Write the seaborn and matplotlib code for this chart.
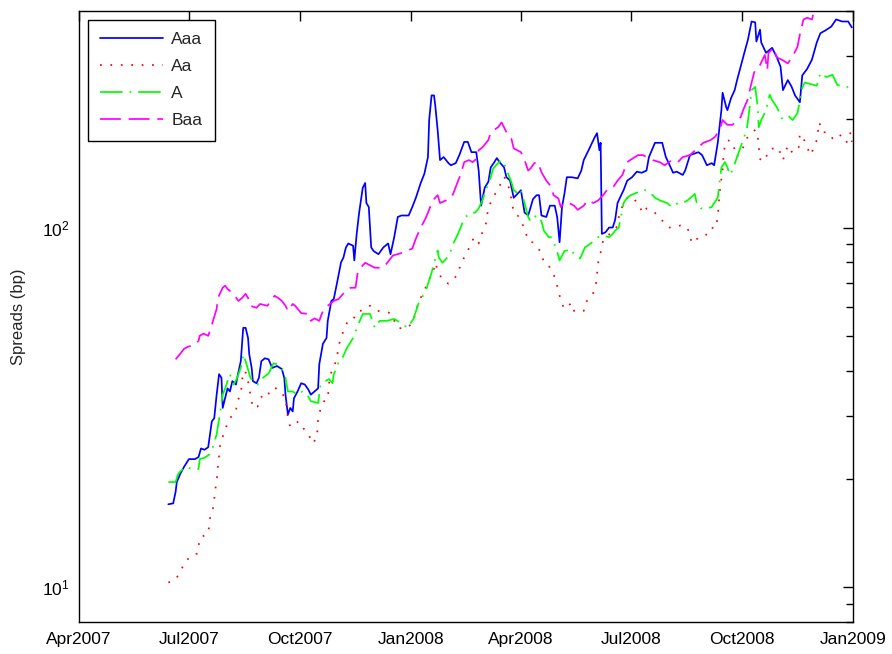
import matplotlib
matplotlib.use("Agg")
import matplotlib.pyplot as plt
import matplotlib.dates as mdates
from matplotlib.ticker import LogLocator, NullFormatter
import seaborn as sns
import pandas as pd

# ---------------- data (spreads in bp) ----------------
aaa_dates = [
 "2007-06-14","2007-06-18","2007-06-20","2007-06-21","2007-06-24","2007-06-27","2007-07-01","2007-07-06","2007-07-09","2007-07-11",
 "2007-07-14","2007-07-17","2007-07-20","2007-07-22","2007-07-24","2007-07-26","2007-07-28","2007-07-29","2007-08-02","2007-08-04",
 "2007-08-06","2007-08-09","2007-08-10","2007-08-13","2007-08-14","2007-08-15","2007-08-17","2007-08-19","2007-08-20","2007-08-22",
 "2007-08-23","2007-08-26","2007-08-28","2007-08-30","2007-09-02","2007-09-05","2007-09-08","2007-09-12","2007-09-16","2007-09-18",
 "2007-09-19","2007-09-21","2007-09-23","2007-09-25","2007-09-26","2007-09-29","2007-10-02","2007-10-05","2007-10-08","2007-10-10",
 "2007-10-13","2007-10-16","2007-10-17","2007-10-20","2007-10-23","2007-10-24","2007-10-27","2007-10-29","2007-11-01","2007-11-04",
 "2007-11-06","2007-11-08","2007-11-10","2007-11-14","2007-11-15","2007-11-17","2007-11-19","2007-11-22","2007-11-24","2007-11-25",
 "2007-11-27","2007-11-29","2007-12-01","2007-12-05","2007-12-09","2007-12-13","2007-12-15","2007-12-18","2007-12-21","2007-12-24",
 "2007-12-30","2008-01-02","2008-01-05","2008-01-09","2008-01-12","2008-01-15","2008-01-16","2008-01-18","2008-01-20","2008-01-21",
 "2008-01-23","2008-01-25","2008-01-28","2008-02-01","2008-02-03","2008-02-07","2008-02-10","2008-02-14","2008-02-17","2008-02-20",
 "2008-02-24","2008-02-26","2008-02-28","2008-03-02","2008-03-05","2008-03-07","2008-03-10","2008-03-12","2008-03-15","2008-03-18",
 "2008-03-20","2008-03-23","2008-03-26","2008-03-30","2008-04-01","2008-04-04","2008-04-07","2008-04-11","2008-04-14","2008-04-16",
 "2008-04-18","2008-04-22","2008-04-25","2008-04-29","2008-05-01","2008-05-03","2008-05-05","2008-05-07","2008-05-09","2008-05-13",
 "2008-05-18","2008-05-21","2008-05-23","2008-05-27","2008-06-01","2008-06-03","2008-06-05","2008-06-06","2008-06-07","2008-06-10",
 "2008-06-13","2008-06-16","2008-06-18","2008-06-20","2008-06-22","2008-06-25","2008-06-28","2008-07-02","2008-07-06","2008-07-10",
 "2008-07-14","2008-07-16","2008-07-21","2008-07-27","2008-07-30","2008-08-01","2008-08-05","2008-08-08","2008-08-13","2008-08-15",
 "2008-08-19","2008-08-26","2008-08-29","2008-09-02","2008-09-06","2008-09-08","2008-09-11","2008-09-14","2008-09-15","2008-09-18",
 "2008-09-19","2008-09-22","2008-09-25","2008-09-27","2008-10-01","2008-10-03","2008-10-06","2008-10-09","2008-10-12","2008-10-13",
 "2008-10-16","2008-10-17","2008-10-21","2008-10-24","2008-10-26","2008-10-30","2008-11-02","2008-11-04","2008-11-08","2008-11-11",
 "2008-11-14","2008-11-18","2008-11-20","2008-11-24","2008-11-28","2008-12-02","2008-12-05","2008-12-09","2008-12-14","2008-12-18",
 "2008-12-23","2008-12-28","2008-12-31"]
aaa_vals = [
 17.0,17.1,18.4,19.6,20.7,21.6,22.7,22.7,23.0,24.3,
 24.1,24.5,28.9,29.5,34.3,39.1,38.2,31.5,35.7,35.0,
 37.4,36.6,38.2,42.5,47.5,52.6,52.6,49.3,44.4,40.7,
 37.4,36.9,38.2,42.5,43.3,43.0,40.7,41.2,40.4,38.2,
 34.3,30.2,31.5,30.8,33.5,35.0,36.9,36.6,35.4,34.3,
 35.0,35.7,41.7,47.5,49.3,55.0,62.5,63.3,71.0,80.0,
 82.5,87.9,90.3,89.0,81.0,96.2,110,129,133,117,
 114,88,86,84.3,88,90.3,84.3,93.8,107,108,
 108,114,121,133,141,157,199,233,233,219,
 187,154,157,151,149,151,159,173,173,162,
 162,144,115,129,134,147,152,156,151,147,
 138,135,121,125,127,110,108,120,123,123,
 108,107,115,115,107,91,114,124,138,138,
 137,144,154,164,178,183,164,172,96,97,
 100,100,105,117,121,127,135,138,143,142,
 144,157,172,172,157,152,142,143,140,144,
 159,162,159,149,151,149,172,212,237,216,
 212,229,241,257,289,306,333,374,372,329,
 355,327,306,312,316,297,280,241,257,247,
 233,223,265,276,293,327,347,353,362,379,
 374,374,360]

aa_dates = [
 "2007-06-14","2007-06-20","2007-06-25","2007-06-27","2007-07-04","2007-07-08","2007-07-09","2007-07-10","2007-07-17","2007-07-18",
 "2007-07-19","2007-07-21","2007-07-22","2007-07-23","2007-07-24","2007-07-25","2007-07-27","2007-07-30","2007-08-02","2007-08-06",
 "2007-08-09","2007-08-10","2007-08-13","2007-08-14","2007-08-15","2007-08-18","2007-08-19","2007-08-21","2007-08-23","2007-08-27",
 "2007-08-29","2007-09-01","2007-09-04","2007-09-07","2007-09-12","2007-09-15","2007-09-19","2007-09-21","2007-09-23","2007-09-25",
 "2007-09-30","2007-10-04","2007-10-08","2007-10-11","2007-10-15","2007-10-16","2007-10-18","2007-10-21","2007-10-24","2007-10-25",
 "2007-10-26","2007-10-29","2007-11-01","2007-11-02","2007-11-04","2007-11-06","2007-11-09","2007-11-14","2007-11-16","2007-11-20",
 "2007-11-24","2007-11-28","2007-12-04","2007-12-09","2007-12-15","2007-12-21","2007-12-27","2008-01-02","2008-01-07","2008-01-13",
 "2008-01-15","2008-01-19","2008-01-21","2008-01-24","2008-01-28","2008-02-01","2008-02-04","2008-02-09","2008-02-11","2008-02-15",
 "2008-02-19","2008-02-22","2008-02-26","2008-02-29","2008-03-03","2008-03-05","2008-03-09","2008-03-13","2008-03-16","2008-03-18",
 "2008-03-21","2008-03-24","2008-03-26","2008-03-30","2008-04-04","2008-04-07","2008-04-11","2008-04-18","2008-04-20","2008-04-24",
 "2008-04-28","2008-05-02","2008-05-04","2008-05-07","2008-05-13","2008-05-15","2008-05-23","2008-05-24","2008-05-30","2008-06-02",
 "2008-06-04","2008-06-06","2008-06-08","2008-06-11","2008-06-15","2008-06-19","2008-06-22","2008-06-25","2008-06-29","2008-07-03",
 "2008-07-07","2008-07-11","2008-07-14","2008-07-19","2008-07-25","2008-07-29","2008-08-01","2008-08-05","2008-08-11","2008-08-17",
 "2008-08-19","2008-08-21","2008-08-26","2008-09-01","2008-09-05","2008-09-09","2008-09-11","2008-09-12","2008-09-13","2008-09-15",
 "2008-09-16","2008-09-19","2008-09-23","2008-09-27","2008-09-29","2008-10-02","2008-10-05","2008-10-08","2008-10-12","2008-10-14",
 "2008-10-16","2008-10-20","2008-10-23","2008-10-27","2008-10-31","2008-11-04","2008-11-08","2008-11-12","2008-11-17","2008-11-18",
 "2008-11-21","2008-11-24","2008-11-27","2008-12-02","2008-12-04","2008-12-07","2008-12-11","2008-12-15","2008-12-21","2008-12-24",
 "2008-12-28","2008-12-30","2008-12-31"]
aa_vals = [
 10.3,10.5,11.2,11.7,12.3,12.4,13.0,13.7,14.1,15.0,
 16.0,16.6,17.6,18.8,19.7,21.6,25.0,26.8,28.6,30.2,
 30.8,32.9,34.3,37.4,39.9,39.3,37.4,34.3,31.5,31.8,
 33.5,34.3,33.9,35.7,35.7,35.0,33.5,29.5,27.9,28.3,
 28.9,27.6,26.8,25.1,25.9,29.2,31.3,32.9,33.3,36.6,
 39.1,40.4,44.4,46.9,49.3,51.6,54.3,55.0,57.8,58.6,
 59.8,60.6,58.6,58.6,57.8,52.6,52.3,54.0,61.7,68.0,
 71.0,74.4,79.8,74.4,71.0,69.8,71.0,74.4,79.3,83.6,
 89.0,93.8,90.3,96.9,102.6,113.7,121.3,128,134,138.5,
 133,120.5,110,107.4,99.3,92,90.8,85.2,79.8,78.3,
 74.4,67.1,62.5,59.4,61.7,58.6,58.6,61.7,64.6,68.9,
 79.8,85.2,92,95,96.3,100,110,116.7,122,120.5,
 116.7,109.5,113,111.5,106.6,102.6,100,100,101.3,100,
 93.8,90.3,93.8,95,100,99.4,106.6,119,129,144,
 164,175,173,157,162,167,177,181,187,181,
 155,153,164,166,167,154,169,161,167,182,
 177,167,159,175,196,184,184,177,182,173,
 173,184,173]

a_dates = [
 "2007-06-14","2007-06-20","2007-06-22","2007-06-24","2007-06-28","2007-07-04","2007-07-09","2007-07-10","2007-07-14","2007-07-18",
 "2007-07-21","2007-07-24","2007-07-27","2007-07-29","2007-07-31","2007-08-04","2007-08-07","2007-08-10","2007-08-14","2007-08-15",
 "2007-08-17","2007-08-21","2007-08-23","2007-08-27","2007-08-28","2007-09-05","2007-09-09","2007-09-12","2007-09-16","2007-09-19",
 "2007-09-21","2007-09-25","2007-09-29","2007-10-03","2007-10-07","2007-10-10","2007-10-16","2007-10-18","2007-10-22","2007-10-25",
 "2007-10-28","2007-10-29","2007-11-01","2007-11-02","2007-11-05","2007-11-09","2007-11-14","2007-11-18","2007-11-22","2007-11-28",
 "2007-12-02","2007-12-06","2007-12-12","2007-12-18","2007-12-25","2007-12-29","2008-01-03","2008-01-07","2008-01-10","2008-01-14",
 "2008-01-18","2008-01-21","2008-01-23","2008-01-24","2008-01-27","2008-01-31","2008-02-03","2008-02-05","2008-02-09","2008-02-13",
 "2008-02-15","2008-02-19","2008-02-23","2008-02-26","2008-02-29","2008-03-03","2008-03-07","2008-03-09","2008-03-13","2008-03-16",
 "2008-03-18","2008-03-21","2008-03-24","2008-03-26","2008-03-30","2008-04-01","2008-04-04","2008-04-07","2008-04-09","2008-04-12",
 "2008-04-15","2008-04-18","2008-04-20","2008-04-24","2008-04-26","2008-04-30","2008-05-03","2008-05-07","2008-05-13","2008-05-15",
 "2008-05-20","2008-05-24","2008-05-28","2008-06-01","2008-06-04","2008-06-08","2008-06-13","2008-06-16","2008-06-18","2008-06-21",
 "2008-06-24","2008-06-25","2008-06-28","2008-07-01","2008-07-06","2008-07-09","2008-07-13","2008-07-17","2008-07-21","2008-07-25",
 "2008-07-31","2008-08-04","2008-08-09","2008-08-13","2008-08-17","2008-08-23","2008-08-25","2008-08-28","2008-09-02","2008-09-06",
 "2008-09-08","2008-09-11","2008-09-13","2008-09-14","2008-09-17","2008-09-19","2008-09-21","2008-09-23","2008-09-27","2008-09-29",
 "2008-10-02","2008-10-05","2008-10-07","2008-10-09","2008-10-12","2008-10-14","2008-10-15","2008-10-17","2008-10-21","2008-10-24",
 "2008-10-26","2008-10-30","2008-11-03","2008-11-08","2008-11-12","2008-11-16","2008-11-20","2008-11-22","2008-12-02","2008-12-05",
 "2008-12-10","2008-12-15","2008-12-19","2008-12-27","2008-12-31"]
a_vals = [
 19.6,19.6,20.6,21.0,21.6,21.3,21.3,22.7,22.9,23.4,
 24.6,26.6,30.8,34.3,35.7,39.1,36.6,38.2,41.7,44.4,
 42.5,38.2,37.4,36.6,37.4,39.3,41.9,41.7,40.4,38.2,
 35.0,35.0,34.3,35.0,34.3,32.9,32.5,36.6,37.4,37.9,
 36.9,39.1,41.2,42.5,43.3,46.3,49.3,53.5,57.5,57.5,
 52.6,55.0,55.0,55.7,53.9,52.6,55.7,61.3,63.7,68.0,
 74.9,81.9,86.3,82.5,79.8,82.5,86.3,90.3,96.2,103.8,
 106.8,110,110,113,119,127,138,146,151,154,
 151,142,134,127,124,127,117,107,104,107,
 108,104,98,94,94,88,81,86,87,84,
 82,88,90,92,94,95,94,96,98,100,
 112,117,121,123,125,127,127,125,121,119,
 117,114,117,117,119,124,115,113,113,114,
 117,121,138,147,152,147,140,144,157,164,
 175,187,210,241,246,218,190,199,212,234,
 226,216,201,205,199,208,245,253,248,269,
 262,266,249,246,246]

baa_dates = [
 "2007-06-20","2007-06-23","2007-06-27","2007-06-30","2007-07-06","2007-07-09","2007-07-10","2007-07-13","2007-07-17","2007-07-19",
 "2007-07-21","2007-07-24","2007-07-25","2007-07-29","2007-07-31","2007-08-02","2007-08-06","2007-08-08","2007-08-11","2007-08-14",
 "2007-08-17","2007-08-19","2007-08-21","2007-08-26","2007-08-29","2007-09-04","2007-09-10","2007-09-13","2007-09-16","2007-09-19",
 "2007-09-21","2007-09-25","2007-09-27","2007-10-02","2007-10-08","2007-10-10","2007-10-13","2007-10-17","2007-10-19","2007-10-21",
 "2007-10-24","2007-10-27","2007-10-29","2007-11-02","2007-11-08","2007-11-12","2007-11-16","2007-11-18","2007-11-24","2007-12-02",
 "2007-12-09","2007-12-17","2007-12-23","2008-01-02","2008-01-05","2008-01-09","2008-01-13","2008-01-15","2008-01-19","2008-01-23",
 "2008-01-25","2008-01-30","2008-02-03","2008-02-05","2008-02-09","2008-02-11","2008-02-14","2008-02-18","2008-02-21","2008-02-23",
 "2008-02-26","2008-02-29","2008-03-05","2008-03-07","2008-03-13","2008-03-16","2008-03-18","2008-03-21","2008-03-24","2008-03-26",
 "2008-04-01","2008-04-04","2008-04-07","2008-04-09","2008-04-12","2008-04-15","2008-04-18","2008-04-22","2008-04-26","2008-04-28",
 "2008-05-02","2008-05-04","2008-05-07","2008-05-11","2008-05-15","2008-05-18","2008-05-23","2008-05-26","2008-05-31","2008-06-04",
 "2008-06-08","2008-06-12","2008-06-16","2008-06-20","2008-06-24","2008-06-28","2008-07-03","2008-07-07","2008-07-11","2008-07-14",
 "2008-07-19","2008-07-25","2008-07-29","2008-08-04","2008-08-09","2008-08-13","2008-08-19","2008-08-25","2008-08-30","2008-09-05",
 "2008-09-09","2008-09-13","2008-09-15","2008-09-19","2008-09-23","2008-09-27","2008-09-30","2008-10-02","2008-10-06","2008-10-08",
 "2008-10-11","2008-10-13","2008-10-16","2008-10-20","2008-10-22","2008-10-23","2008-10-27","2008-10-30","2008-11-03","2008-11-08",
 "2008-11-12","2008-11-16","2008-11-18","2008-11-21","2008-11-24","2008-11-28","2008-12-02","2008-12-31"]
baa_vals = [
 43.0,44.2,46.0,46.6,47.2,48.4,50.0,50.7,50.0,52.3,
 55.0,59.4,63.7,68.0,68.9,67.5,65.8,64.6,62.5,63.7,
 65.4,63.7,60.6,59.8,61.3,60.6,64.6,63.7,62.5,60.6,
 58.6,61.3,60.6,57.8,57.5,55.0,55.9,55.0,57.5,59.4,
 60.6,61.7,62.5,63.3,66.7,68.0,68.0,75.9,79.8,77.3,
 77.3,83.6,84.7,87.4,93.2,100,106,110,119,123,
 117,119,120.5,124.4,135,140,152,154,152,154,
 164,167,175,184,190,196,190,181,177,166,
 162,154,144,146,151,152,142.5,135,130,123,
 120.5,114,117,117,115,112,115,119,117,119,
 123,128,129,135,140,152,156,159,159,157,
 154,152,149,154,152,157,159,166,172,175,
 179,189,199,193,193,198,203,212,228,245,
 269,278,283,302,274,306,316,297,293,286,
 299,318,344,379,383,379,430,470]

series_names = ["Aaa", "Aa", "A", "Baa"]
series_dates = [aaa_dates, aa_dates, a_dates, baa_dates]
series_vals = [aaa_vals, aa_vals, a_vals, baa_vals]
colors = ["#0000ff", "#ff0000", "#00ff00", "#ff00ff"]
styles = ["-", (0, (1, 5)), (0, (13, 4, 1, 4)), (0, (12, 4.5))]

for d, v in zip(series_dates, series_vals):
    if len(d) != len(v):
        raise ValueError(f"length mismatch {len(d)} vs {len(v)}")

# ---------------- plot ----------------
sns.set_style("white")
plt.rcParams['font.family'] = ['Liberation Sans', 'DejaVu Sans']
plt.rcParams['mathtext.fontset'] = 'custom'
plt.rcParams['mathtext.rm'] = 'Liberation Sans'

fig = plt.figure(figsize=(8.92, 6.54), dpi=100)
ax = fig.add_axes([79 / 892, 32 / 654, (853 - 79) / 892, (622 - 11) / 654])

for name, d, v, c, ls in zip(series_names, series_dates, series_vals, colors, styles):
    df = pd.DataFrame({"date": pd.to_datetime(d), "spread": v})
    sns.lineplot(data=df, x="date", y="spread", ax=ax, color=c, linestyle=ls,
                 linewidth=1.25, label=name, estimator=None, sort=False)

ax.set_yscale("log")
ax.set_ylim(8, 400)
ax.set_xlim(pd.Timestamp("2007-04-01"), pd.Timestamp("2009-01-01"))

ax.xaxis.set_major_locator(mdates.MonthLocator(bymonth=[1, 4, 7, 10]))
ax.xaxis.set_major_formatter(mdates.DateFormatter("%b%Y"))
ax.yaxis.set_major_locator(LogLocator(base=10))
ax.yaxis.set_minor_locator(LogLocator(base=10, subs=range(2, 10)))
ax.yaxis.set_minor_formatter(NullFormatter())

ax.tick_params(which="both", direction="in", top=True, right=True, colors="black",
               labelsize=12.5)
ax.tick_params(which="major", length=7, width=1, pad=7)
ax.tick_params(which="minor", length=5, width=1)

for s in ax.spines.values():
    s.set_visible(True)
    s.set_color("black")
    s.set_linewidth(1.0)

ax.set_xlabel("")
ax.set_ylabel("Spreads (bp)", fontsize=12)
ax.yaxis.set_label_coords(-0.068, 0.5)

leg = ax.legend(loc="upper left", frameon=True, fancybox=False, edgecolor="black",
                framealpha=1, fontsize=12.5, handlelength=3.6, borderaxespad=0.5,
                labelspacing=0.68, handletextpad=0.5, borderpad=0.72)
leg.get_frame().set_linewidth(1.0)

fig.savefig("out.png", dpi=100, facecolor="white")
